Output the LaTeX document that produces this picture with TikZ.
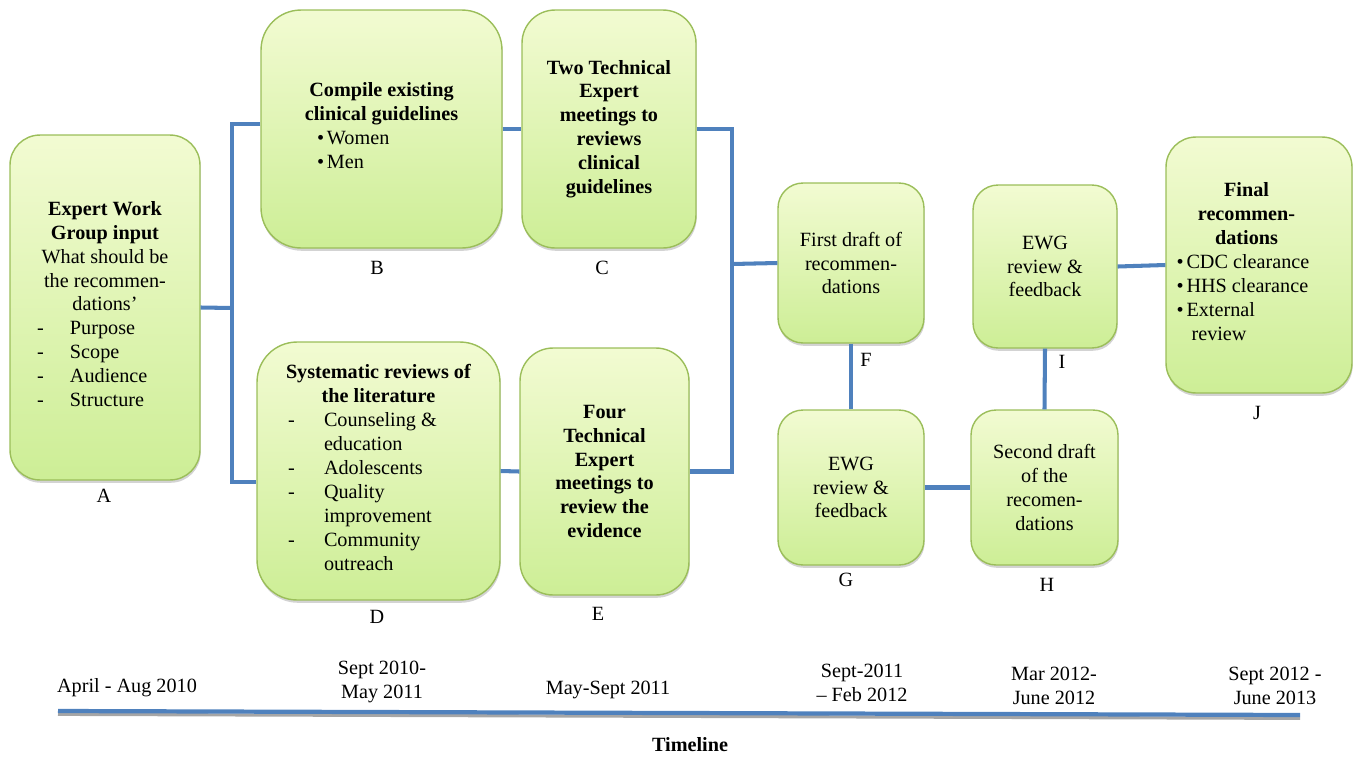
\documentclass[tikz,border=0pt]{standalone}
\usepackage{fontspec}
\setmainfont{Liberation Serif}
\usetikzlibrary{shadows}
\definecolor{boxtop}{RGB}{242,251,210}
\definecolor{boxbot}{RGB}{205,238,150}
\definecolor{boxline}{RGB}{155,190,90}
\definecolor{linkblue}{RGB}{79,129,189}
\tikzset{
  stage/.style={draw=boxline, line width=0.8pt, rounded corners=0.6cm,
    top color=boxtop, bottom color=boxbot, align=center, inner sep=2pt,
    drop shadow={shadow xshift=0.4pt, shadow yshift=-1.6pt, opacity=0.35},
    font=\fontsize{11.5}{13.6}\selectfont},
  link/.style={draw=linkblue, line width=2.3pt},
  tag/.style={font=\fontsize{11.5}{13.6}\selectfont, align=center, inner sep=0pt},
}
\begin{document}
\begin{tikzpicture}[x=0.02cm,y=-0.02cm]
  \useasboundingbox (0,0) rectangle (1360,758);

  % stages
  \node[stage, minimum width=3.8cm, minimum height=6.9cm] (A) at (105,307.5)
    {\textbf{Expert Work}\\\textbf{Group input}\\What should be\\the recommen-\\dations’\\
     \begin{tabular}[t]{@{}p{0.66cm}@{}p{2.06cm}@{}}-&Purpose\\-&Scope\\-&Audience\\-&Structure\end{tabular}};
  \node[stage, rounded corners=0.8cm, minimum width=4.82cm, minimum height=4.76cm] (B) at (381.5,129)
    {\textbf{Compile existing}\\\textbf{clinical guidelines}\\
     \begin{tabular}[t]{@{}p{0.2cm}@{}p{2.38cm}@{}}•&Women\\•&Men\end{tabular}};
  \node[stage, rounded corners=0.66cm, minimum width=3.48cm, minimum height=4.76cm] (C) at (609,129)
    {\textbf{Two Technical}\\\textbf{Expert}\\\textbf{meetings to}\\\textbf{reviews}\\\textbf{clinical}\\\textbf{guidelines}};
  \node[stage, rounded corners=0.8cm, minimum width=4.86cm, minimum height=5.16cm] (D) at (378.5,471)
    {\textbf{Systematic reviews of}\\\textbf{the literature}\\
     \begin{tabular}[t]{@{}p{0.72cm}@{}p{2.9cm}@{}}-&Counseling \&\\&education\\-&Adolescents\\-&Quality\\&improvement\\-&Community\\&outreach\end{tabular}};
  \node[stage, rounded corners=0.66cm, minimum width=3.38cm, minimum height=4.94cm] (E) at (604.5,471.5)
    {\textbf{Four}\\\textbf{Technical}\\\textbf{Expert}\\\textbf{meetings to}\\\textbf{review the}\\\textbf{evidence}};
  \node[stage, rounded corners=0.5cm, minimum width=2.92cm, minimum height=3.2cm] (F) at (851,263)
    {First draft of\\recommen-\\dations};
  \node[stage, rounded corners=0.5cm, minimum width=2.92cm, minimum height=3.1cm] (G) at (851,487.5)
    {EWG\\review \&\\feedback};
  \node[stage, rounded corners=0.5cm, minimum width=2.94cm, minimum height=3.1cm] (H) at (1044.5,487.5)
    {Second draft\\of the\\recomen-\\dations};
  \node[stage, rounded corners=0.5cm, minimum width=2.88cm, minimum height=3.26cm] (I) at (1045,266.5)
    {EWG\\review \&\\feedback};
  \node[stage, minimum width=3.72cm, minimum height=5.12cm] (J) at (1259,265)
    {\textbf{Final}\rule{0.5cm}{0pt}\\\textbf{recommen-}\rule{0.5cm}{0pt}\\\textbf{dations}\rule{0.5cm}{0pt}\\
     \begin{tabular}[t]{@{}p{0.2cm}@{}p{3.1cm}@{}}•&CDC clearance\\•&HHS clearance\\•&External\\&\ review\end{tabular}};

  % connectors
  \coordinate (splitL) at (232,308);
  \coordinate (splitR) at (732,264);
  \draw[link] (A.east) -- (splitL);
  \draw[link] ([yshift=2.8pt]B.west) -| (splitL) |- ([yshift=-6.2pt]D.west);
  \draw[link] (B.east) -- (C.west);
  \draw[link] (D.east) -- (E.west);
  \draw[link] (C.east) -| (splitR);
  \draw[link] (E.east) -| (splitR);
  \draw[link] (splitR) -- (F.west);
  \draw[link] (F.south) -- (G.north);
  \draw[link] (G.east) -- (H.west);
  \draw[link] (H.north) -- (I.south);
  \draw[link] (I.east) -- (J.west);

  % letters
  \foreach \n/\x/\y in {A/104/496, B/377/268, C/602/268, D/377/617, E/598/614,
                        F/866/360, G/846/580, H/1047/585, I/1062/362, J/1257/413}
    \node[tag] (lbl\n) at (\x,\y) {\n};

  % timeline
  \coordinate (tlstart) at (58,711);
  \coordinate (tlend) at (1300,715);
  \draw[line width=1.8pt, black!35] ([yshift=-1.9pt]tlstart) -- ([yshift=-1.9pt]tlend);
  \draw[link, line width=2.4pt] (tlstart) -- (tlend);
  \foreach \n/\x/\y/\t in {1/127/688/{April - Aug 2010}, 2/382/682/{Sept 2010-\\May 2011},
                           3/608/690/{May-Sept 2011}, 4/862/683/{Sept-2011\\– Feb 2012},
                           5/1054/686/{Mar 2012-\\June 2012}, 6/1275/686/{Sept 2012 -\\June 2013}}
    \node[tag] (date\n) at (\x,\y) {\t};
  \node[tag, font=\fontsize{11.5}{13.6}\selectfont\bfseries] (tltitle) at (690,745) {Timeline};
\end{tikzpicture}
\end{document}
